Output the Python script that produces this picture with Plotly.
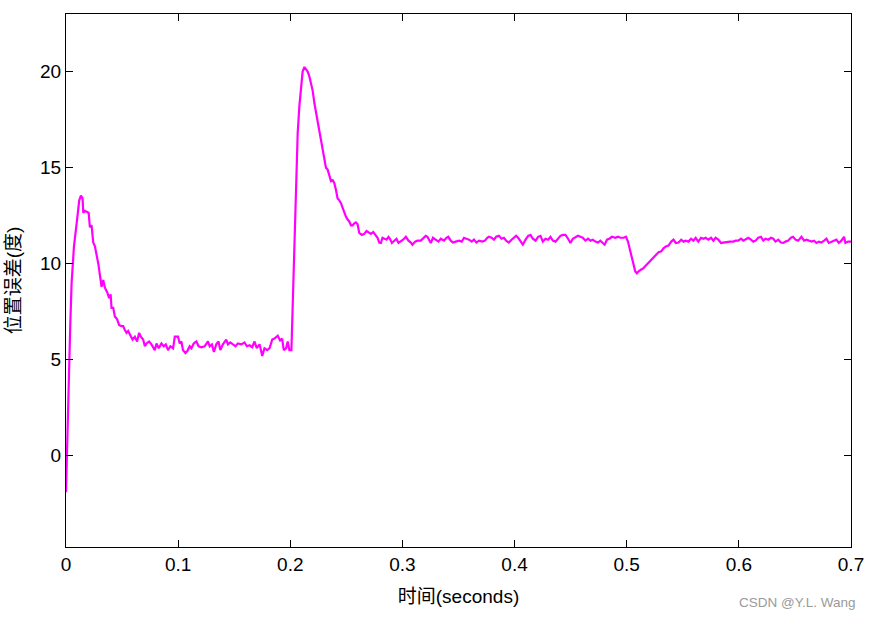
import plotly.graph_objects as go

# time (s) and position error (deg)
t = [
    0.0000, 0.0010, 0.0025, 0.0032, 0.0038, 0.0050, 0.0071, 0.0095, 0.0118, 0.0133,
    0.0148, 0.0154, 0.0170, 0.0184, 0.0202, 0.0213, 0.0228, 0.0243, 0.0258, 0.0288,
    0.0308, 0.0317, 0.0332, 0.0347, 0.0368, 0.0385, 0.0398, 0.0406, 0.0421, 0.0436,
    0.0456, 0.0474, 0.0495, 0.0510, 0.0525, 0.0540, 0.0554, 0.0569, 0.0593, 0.0614,
    0.0634, 0.0652, 0.0667, 0.0688, 0.0703, 0.0718, 0.0741, 0.0762, 0.0792, 0.0807,
    0.0827, 0.0851, 0.0872, 0.0890, 0.0910, 0.0931, 0.0955, 0.0970, 0.0999, 0.1014,
    0.1029, 0.1043, 0.1065, 0.1082, 0.1103, 0.1118, 0.1139, 0.1162, 0.1183, 0.1207,
    0.1236, 0.1266, 0.1281, 0.1301, 0.1319, 0.1340, 0.1360, 0.1376, 0.1399, 0.1429,
    0.1444, 0.1465, 0.1488, 0.1512, 0.1533, 0.1563, 0.1592, 0.1613, 0.1637, 0.1660,
    0.1681, 0.1701, 0.1726, 0.1750, 0.1770, 0.1794, 0.1815, 0.1839, 0.1859, 0.1888,
    0.1909, 0.1927, 0.1942, 0.1963, 0.1977, 0.1992, 0.2010, 0.2024, 0.2037, 0.2052,
    0.2066, 0.2081, 0.2096, 0.2110, 0.2126, 0.2140, 0.2155, 0.2170, 0.2185, 0.2200,
    0.2215, 0.2230, 0.2244, 0.2259, 0.2274, 0.2289, 0.2304, 0.2318, 0.2333, 0.2348,
    0.2363, 0.2378, 0.2392, 0.2407, 0.2422, 0.2437, 0.2452, 0.2467, 0.2481, 0.2496,
    0.2511, 0.2526, 0.2541, 0.2556, 0.2571, 0.2585, 0.2600, 0.2615, 0.2639, 0.2659,
    0.2680, 0.2698, 0.2719, 0.2740, 0.2763, 0.2778, 0.2793, 0.2808, 0.2822, 0.2837,
    0.2858, 0.2876, 0.2888, 0.2906, 0.2926, 0.2947, 0.2965, 0.2986, 0.3006, 0.3031,
    0.3054, 0.3075, 0.3089, 0.3113, 0.3134, 0.3164, 0.3184, 0.3208, 0.3223, 0.3238,
    0.3253, 0.3273, 0.3297, 0.3321, 0.3342, 0.3371, 0.3392, 0.3409, 0.3431, 0.3451,
    0.3475, 0.3505, 0.3529, 0.3549, 0.3570, 0.3594, 0.3618, 0.3638, 0.3659, 0.3683,
    0.3712, 0.3736, 0.3756, 0.3771, 0.3795, 0.3816, 0.3836, 0.3860, 0.3884, 0.3905,
    0.3925, 0.3949, 0.3973, 0.3994, 0.4014, 0.4032, 0.4053, 0.4074, 0.4098, 0.4121,
    0.4142, 0.4163, 0.4187, 0.4210, 0.4231, 0.4252, 0.4276, 0.4299, 0.4320, 0.4341,
    0.4365, 0.4388, 0.4409, 0.4430, 0.4454, 0.4477, 0.4498, 0.4519, 0.4543, 0.4566,
    0.4587, 0.4608, 0.4632, 0.4655, 0.4676, 0.4697, 0.4721, 0.4744, 0.4765, 0.4786,
    0.4803, 0.4824, 0.4845, 0.4868, 0.4898, 0.4922, 0.4943, 0.4972, 0.4993, 0.5011,
    0.5032, 0.5046, 0.5061, 0.5076, 0.5091, 0.5106, 0.5130, 0.5150, 0.5171, 0.5195,
    0.5219, 0.5239, 0.5260, 0.5284, 0.5308, 0.5328, 0.5349, 0.5373, 0.5397, 0.5417,
    0.5438, 0.5462, 0.5486, 0.5506, 0.5527, 0.5550, 0.5574, 0.5595, 0.5615, 0.5639,
    0.5663, 0.5684, 0.5704, 0.5728, 0.5752, 0.5773, 0.5793, 0.5817, 0.5841, 0.5862,
    0.5891, 0.5921, 0.5951, 0.5971, 0.5995, 0.6019, 0.6040, 0.6060, 0.6084, 0.6108,
    0.6129, 0.6149, 0.6173, 0.6197, 0.6218, 0.6238, 0.6262, 0.6286, 0.6307, 0.6327,
    0.6351, 0.6375, 0.6396, 0.6416, 0.6440, 0.6464, 0.6484, 0.6505, 0.6529, 0.6558,
    0.6582, 0.6603, 0.6624, 0.6648, 0.6671, 0.6692, 0.6713, 0.6736, 0.6760, 0.6781,
    0.6802, 0.6825, 0.6849, 0.6870, 0.6891, 0.6914, 0.6938, 0.6950, 0.6974, 0.7000,
]
err = [
    -1.9, 0.8, 4.0, 6.6, 6.8, 9.0, 10.9, 12.1, 13.3, 13.55,
    13.4, 12.65, 12.75, 12.7, 12.65, 11.9, 12.0, 11.1, 10.9, 10.0,
    9.2, 8.8, 9.15, 8.75, 8.5, 8.2, 8.4, 7.7, 7.7, 7.25,
    7.1, 6.8, 6.75, 6.75, 6.55, 6.4, 6.5, 6.3, 6.05, 6.2,
    5.95, 6.4, 6.2, 6.05, 5.7, 5.85, 5.95, 5.8, 5.5, 5.85,
    5.6, 5.85, 5.7, 5.8, 5.5, 5.7, 5.6, 6.2, 6.2, 5.85,
    5.95, 5.5, 5.35, 5.45, 5.7, 5.6, 5.85, 5.95, 5.7, 5.65,
    5.7, 5.95, 5.7, 5.8, 5.4, 5.8, 5.95, 5.5, 5.8, 6.05,
    5.8, 5.9, 5.8, 5.7, 5.85, 5.8, 5.9, 5.7, 5.75, 5.65,
    5.95, 5.6, 5.8, 5.2, 5.6, 5.5, 5.6, 6.05, 6.1, 6.25,
    6.0, 6.1, 5.5, 5.6, 5.95, 5.5, 5.5, 8.5, 10.7, 15.07,
    16.8, 18.2, 19.4, 20.0, 20.24, 20.1, 20.0, 19.75, 19.4, 19.0,
    18.35, 17.85, 17.3, 16.9, 16.45, 15.94, 15.4, 15.0, 14.9, 14.6,
    14.3, 14.35, 14.2, 13.85, 13.4, 13.3, 13.15, 12.9, 12.65, 12.45,
    12.3, 12.2, 12.0, 12.0, 12.1, 12.15, 12.05, 11.6, 11.5, 11.55,
    11.7, 11.65, 11.55, 11.65, 11.5, 11.35, 11.1, 11.08, 11.35, 11.3,
    11.25, 11.4, 11.3, 11.08, 11.2, 11.3, 11.08, 11.15, 11.25, 11.4,
    11.2, 11.1, 10.99, 11.15, 11.2, 11.2, 11.3, 11.45, 11.4, 11.25,
    11.08, 11.35, 11.25, 11.15, 11.3, 11.2, 11.35, 11.4, 11.2, 11.1,
    11.15, 11.2, 11.15, 11.35, 11.3, 11.25, 11.15, 11.25, 11.1, 11.2,
    11.15, 11.2, 11.35, 11.4, 11.35, 11.25, 11.4, 11.45, 11.3, 11.35,
    11.2, 11.1, 11.25, 11.35, 11.45, 11.35, 11.15, 10.99, 11.25, 11.45,
    11.5, 11.3, 11.2, 11.4, 11.45, 11.15, 11.3, 11.25, 11.4, 11.2,
    11.15, 11.3, 11.45, 11.5, 11.5, 11.3, 11.08, 11.3, 11.4, 11.45,
    11.4, 11.35, 11.2, 11.3, 11.2, 11.25, 11.15, 11.1, 11.2, 11.08,
    10.99, 11.25, 11.3, 11.4, 11.35, 11.4, 11.35, 11.35, 11.4, 11.15,
    10.64, 10.3, 9.95, 9.6, 9.5, 9.6, 9.7, 9.77, 9.9, 10.04,
    10.2, 10.3, 10.47, 10.6, 10.64, 10.8, 10.9, 10.94, 11.15, 11.25,
    11.08, 11.1, 11.25, 11.15, 11.2, 11.15, 11.3, 11.2, 11.35, 11.15,
    11.35, 11.3, 11.35, 11.25, 11.35, 11.2, 11.35, 11.25, 11.08, 11.1,
    11.15, 11.15, 11.15, 11.2, 11.2, 11.3, 11.2, 11.25, 11.35, 11.25,
    11.15, 11.2, 11.35, 11.4, 11.2, 11.3, 11.25, 11.35, 11.3, 11.15,
    11.25, 11.1, 11.08, 11.15, 11.2, 11.35, 11.4, 11.25, 11.2, 11.4,
    11.2, 11.25, 11.2, 11.15, 11.2, 11.08, 11.15, 11.1, 11.2, 11.3,
    11.08, 11.15, 11.2, 11.25, 11.08, 11.2, 11.4, 11.08, 11.15, 11.15,
]

x_ticks = [0, 0.1, 0.2, 0.3, 0.4, 0.5, 0.6, 0.7]
x_labels = ["0", "0.1", "0.2", "0.3", "0.4", "0.5", "0.6", "0.7"]
y_ticks = [0, 5, 10, 15, 20]

FONT = "Liberation Sans, Arial, Noto Sans CJK SC, sans-serif"

fig = go.Figure()
fig.add_trace(go.Scatter(
    x=t, y=err, mode="lines",
    line=dict(color="#ff00ff", width=2.2),
    showlegend=False,
))

axis_common = dict(
    showline=True, linecolor="black", linewidth=1, mirror="allticks",
    ticks="inside", ticklen=7, tickcolor="black", tickwidth=1,
    showgrid=False, zeroline=False,
    tickfont=dict(family=FONT, size=19, color="black"),
)

fig.update_layout(
    width=876, height=619,
    margin=dict(l=66, r=21, t=14, b=72),
    plot_bgcolor="white", paper_bgcolor="white",
    font=dict(family=FONT, color="black"),
    xaxis=dict(
        range=[0, 0.7], tickvals=x_ticks, ticktext=x_labels,
        title=dict(text="时间(seconds)", font=dict(family=FONT, size=19), standoff=15),
        **axis_common,
    ),
    yaxis=dict(
        range=[-4.75, 23.0], tickvals=y_ticks,
        title=dict(text="位置误差(度)", font=dict(family=FONT, size=19), standoff=14),
        **axis_common,
    ),
)

fig.add_annotation(
    text="CSDN @Y.L. Wang", xref="paper", yref="paper",
    x=1.009, y=-0.105, xanchor="right", yanchor="middle",
    showarrow=False, font=dict(family=FONT, size=13.5, color="#9a9a9a"),
)

# drop the default page margin so the figure sits at the window's corner
fig.write_html(
    "out.html",
    config={"displayModeBar": False},
    post_script="document.body.style.margin='0';",
)
